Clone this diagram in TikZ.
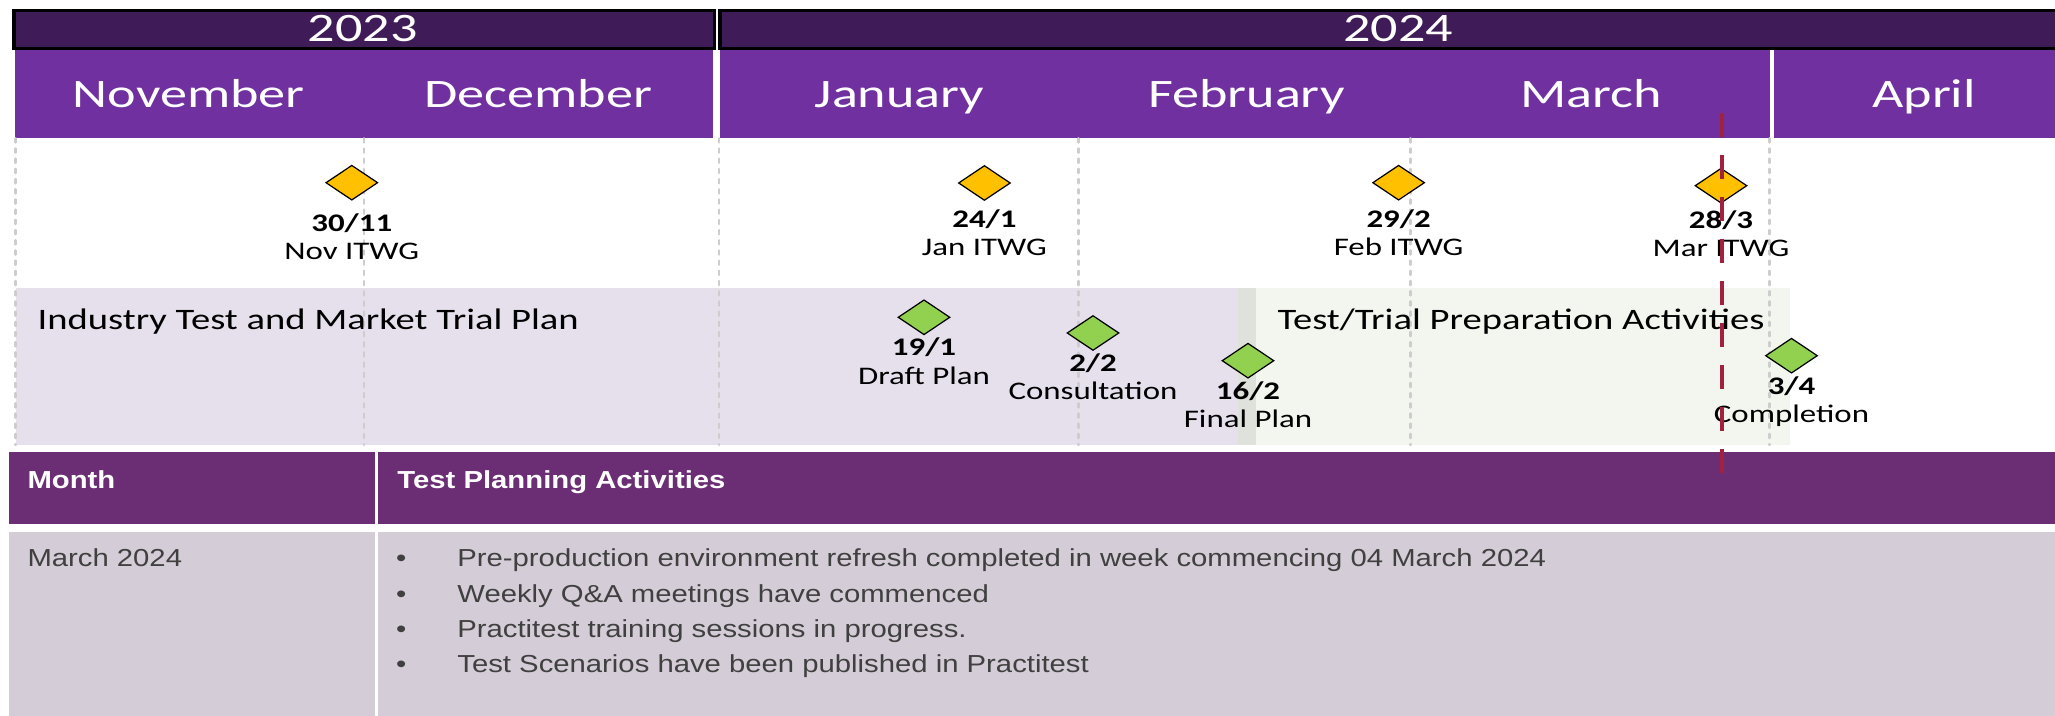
\documentclass[tikz,border=0pt]{standalone}
\usepackage{fontspec}
\newfontfamily\tlfont[FakeStretch=1.3]{Carlito}
\newfontfamily\barfont[FakeStretch=1.34]{Carlito}
\newfontfamily\tabfont[FakeStretch=1.19]{Liberation Sans}
\usepackage{tikz}
\usetikzlibrary{positioning, shapes.geometric}

\definecolor{yeardark}{HTML}{3F1B57}
\definecolor{monthpurple}{HTML}{7030A0}
\definecolor{planlilac}{HTML}{E6E0EC}
\definecolor{prepgreen}{HTML}{F3F6EE}
\definecolor{prepedge}{HTML}{DFE2DA}
\definecolor{gridgrey}{HTML}{CDCDCD}
\definecolor{itwgorange}{HTML}{FFC000}
\definecolor{stepgreen}{HTML}{92D050}
\definecolor{todayred}{HTML}{A1213F}
\definecolor{headpurple}{HTML}{6B2E75}
\definecolor{rowgrey}{HTML}{D4CCD6}
\definecolor{celltextgrey}{HTML}{404040}

\tikzset{
    yearbar/.style={draw=black, line width=1pt, fill=yeardark},
    monthbar/.style={fill=monthpurple},
    barlabel/.style={anchor=base, inner sep=0pt, text=white, font=\barfont\fontsize{11.5}{12}\selectfont},
    gridline/.style={gridgrey, line width=0.7pt, dash pattern=on 1.2pt off 1.7pt, line cap=round},
    bandlabel/.style={anchor=base west, inner sep=0pt, font=\tlfont\fontsize{8.45}{10}\selectfont},
    milestone/.style={diamond, aspect=1.5, draw=black, line width=0.35pt, minimum width=0.52cm, minimum height=0.35cm, inner sep=0pt},
    itwg/.style={milestone, fill=itwgorange},
    keystep/.style={milestone, fill=stepgreen},
    mslabel/.style={align=center, inner sep=0pt, font=\tlfont\fontsize{7.2}{8.05}\selectfont},
    todayline/.style={todayred, line width=1.4pt, dash pattern=on 0.24cm off 0.18cm},
    headtext/.style={anchor=base west, inner sep=0pt, text=white, font=\tabfont\bfseries\fontsize{7}{10}\selectfont},
    celltext/.style={anchor=base west, inner sep=0pt, text=celltextgrey, font=\tabfont\fontsize{7}{10.05}\selectfont}
}

\begin{document}
\begin{tikzpicture}
    \useasboundingbox (0,0) rectangle (20.55,7.16);

    % Year bars
    \draw[yearbar] (0.14,6.677) rectangle (7.145,7.053);
    \draw[yearbar] (7.20,6.677) rectangle (20.70,7.053);
    \node[barlabel] (y2023) at (3.628,6.747) {2023};
    \node[barlabel] (y2024) at (13.98,6.747) {2024};

    % Month bars
    \fill[monthbar] (0.15,5.777) rectangle (7.13,6.66);
    \fill[monthbar] (7.20,5.777) rectangle (17.70,6.66);
    \fill[monthbar] (17.735,5.777) rectangle (20.60,6.66);
    \node[barlabel] (nov) at (1.887,6.087) {November};
    \node[barlabel] (dec) at (5.383,6.087) {December};
    \node[barlabel] (jan) at (8.996,6.087) {January};
    \node[barlabel] (feb) at (12.464,6.087) {February};
    \node[barlabel] (mar) at (15.91,6.087) {March};
    \node[barlabel] (apr) at (19.24,6.087) {April};

    % Activity bands
    \fill[planlilac] (0.156,2.707) rectangle (12.38,4.283);
    \fill[prepedge] (12.38,2.707) rectangle (12.56,4.283);
    \fill[prepgreen] (12.56,2.707) rectangle (17.90,4.283);

    % Month boundaries
    \draw[gridline] (0.156,5.777) -- (0.156,2.71);
    \draw[gridline] (3.638,5.777) -- (3.638,2.71);
    \draw[gridline] (7.190,5.777) -- (7.190,2.71);
    \draw[gridline] (10.786,5.777) -- (10.786,2.71);
    \draw[gridline] (14.107,5.777) -- (14.107,2.71);
    \draw[gridline] (17.695,5.777) -- (17.695,2.71);

    \node[bandlabel] (plan) at (0.37,3.865) {Industry Test and Market Trial Plan};
    \node[bandlabel] (prep) at (12.77,3.86) {Test/Trial Preparation Activities};

    % ITWG meetings
    \node[itwg] (itwgnov) at (3.518,5.333) {};
    \node[itwg] (itwgjan) at (9.844,5.330) {};
    \node[itwg] (itwgfeb) at (13.986,5.333) {};
    \node[itwg] (itwgmar) at (17.210,5.303) {};
    \node[mslabel, below=0.12cm of itwgnov] (lnov) {\textbf{30/11}\\Nov ITWG};
    \node[mslabel, below=0.08cm of itwgjan] (ljan) {\textbf{24/1}\\Jan ITWG};
    \node[mslabel, below=0.08cm of itwgfeb] (lfeb) {\textbf{29/2}\\Feb ITWG};
    \node[mslabel, below=0.06cm of itwgmar] (lmar) {\textbf{28/3}\\Mar ITWG};

    % Plan milestones
    \node[keystep] (draft) at (9.240,3.987) {};
    \node[keystep] (consult) at (10.930,3.830) {};
    \node[keystep] (final) at (12.480,3.553) {};
    \node[keystep] (complete) at (17.915,3.603) {};
    \node[mslabel, below=0.02cm of draft] (ldraft) {\textbf{19/1}\\Draft Plan};
    \node[mslabel, below=0.02cm of consult] (lconsult) {\textbf{2/2}\\Consultation};
    \node[mslabel, below=0.02cm of final] (lfinal) {\textbf{16/2}\\Final Plan};
    \node[mslabel, below=0.02cm of complete] (lcomplete) {\textbf{3/4}\\Completion};

    % Status table
    \fill[headpurple] (0.09,1.92) rectangle (3.75,2.643);
    \fill[headpurple] (3.78,1.92) rectangle (20.60,2.643);
    \fill[rowgrey] (0.09,-0.05) rectangle (3.75,1.837);
    \fill[rowgrey] (3.78,-0.05) rectangle (20.60,1.837);
    \node[headtext] (monthhead) at (0.268,2.272) {Month};
    \node[headtext] (acthead) at (3.967,2.272) {Test Planning Activities};
    \node[celltext] (marchcell) at (0.268,1.499) {March 2024};
    \node[celltext, anchor=north west] (actlist) at (3.955,1.7465) {%
        \begin{tabular}{@{}p{0.612cm}@{}l@{}}
        \textbullet & Pre-production environment refresh completed in week commencing 04 March 2024\\
        \textbullet & Weekly Q\&A meetings have commenced\\
        \textbullet & Practitest training sessions in progress.\\
        \textbullet & Test Scenarios have been published in Practitest
        \end{tabular}};

    % Current date marker
    \coordinate (today top) at (17.22,6.03);
    \coordinate (today bottom) at (17.22,2.43);
    \draw[todayline] (today top) -- (today bottom);
\end{tikzpicture}
\end{document}
